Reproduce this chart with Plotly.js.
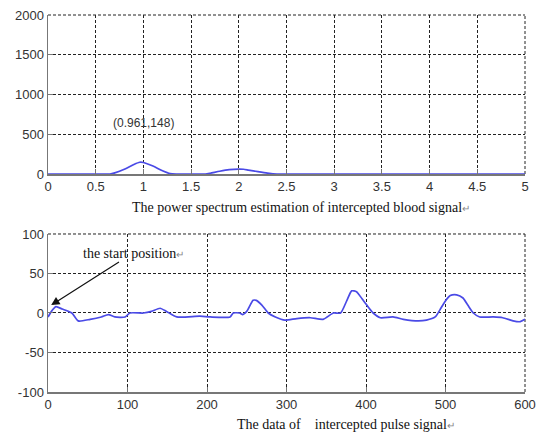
<!DOCTYPE html>
<html>
<head>
<meta charset="utf-8">
<script src="https://cdn.plot.ly/plotly-3.0.1.min.js"></script>
<style>html,body{margin:0;padding:0;background:#fff;}#plot{width:539px;height:436px;}</style>
</head>
<body>
<div id="plot"></div>
<script>
// Top: power spectrum estimation
const freq = [0, 0.5, 0.65, 0.7, 0.8, 0.9, 0.961, 1.0, 1.1, 1.2, 1.28, 1.35, 1.5, 1.65, 1.7, 1.8, 1.9, 2.0, 2.05, 2.1, 2.2, 2.3, 2.4, 2.5, 3, 3.5, 4, 4.5, 5];
const power = [0, 0, 0, 15, 60, 120, 148, 145, 100, 40, 5, 0, 0, 0, 10, 35, 55, 62, 60, 50, 30, 12, 0, 0, 0, 0, 0, 0, 0];
const freqTicks = [0, 0.5, 1, 1.5, 2, 2.5, 3, 3.5, 4, 4.5, 5];
const powerTicks = [0, 500, 1000, 1500, 2000];
const peakLabel = "(0.961,148)";
const returnMark = "<span style='font-size:10px;color:#888'>\u21b5</span>";
const topTitle = "The power spectrum estimation of intercepted blood signal" + returnMark;

// Bottom: intercepted pulse signal
const pulseIndex = [0, 5, 10, 18, 30, 38, 53, 67, 76, 84, 97, 103, 120, 130, 141, 149, 162, 191, 204, 229, 233, 241, 245, 250, 258, 262, 269, 277, 286, 298, 313, 330, 346, 359, 368, 376, 382, 388, 395, 401, 409, 418, 434, 447, 466, 476, 487, 493, 499, 506, 514, 522, 528, 535, 543, 560, 572, 585, 594, 600];
const pulseValue = [-5, 3, 8, 5, 0, -10, -8, -5, -2, -5, -5, 0, 0, 2, 6, 2, -5, -4, -5, -5, 0, 0, -2, 2, 16, 16, 10, 0, -5, -9, -7, -6, -8, 0, 0, 16, 28, 27, 18, 10, 0, -6, -5, -8, -10, -9, -5, 4, 14, 22, 23, 19, 10, 0, -5, -5, -6, -10, -11, -8];
const indexTicks = [0, 100, 200, 300, 400, 500, 600];
const pulseTicks = [-100, -50, 0, 50, 100];
const startLabel = "the start position" + returnMark;
const bottomTitle = "The data of \u00a0\u00a0 intercepted pulse signal" + returnMark;

const lineColor = "#4a4ae6";
const gridColor = "#222";
const gridDash = "3px,2px";
const tickFont = {family: "Liberation Sans, Arial, sans-serif", size: 13, color: "#333"};
const serifFont = {family: "Liberation Serif, Times New Roman, serif", size: 14, color: "#111"};

function axisBase(range, ticks, domain, anchor) {
  return {
    range: range, tickvals: ticks, ticktext: ticks.map(String), domain: domain, anchor: anchor,
    showgrid: true, gridcolor: gridColor, griddash: gridDash, gridwidth: 1,
    zeroline: false, showline: true, linecolor: "#777", linewidth: 1.5,
    ticks: "inside", ticklen: 5, tickcolor: "#777", tickfont: tickFont, fixedrange: true
  };
}

function edgeLines(xr, yr, xa, ya) {
  const ln = {color: gridColor, width: 1, dash: gridDash};
  return [
    {type: "line", xref: xa + " domain", yref: ya, x0: 1, x1: 1, y0: yr[0], y1: yr[1], line: ln, layer: "below"},
    {type: "line", xref: xa, yref: ya + " domain", x0: xr[0], x1: xr[1], y0: 1, y1: 1, line: ln, layer: "below"}
  ];
}

const traces = [
  {x: freq, y: power, type: "scatter", mode: "lines", line: {color: lineColor, width: 1.7, shape: "spline", smoothing: 0.6}, xaxis: "x", yaxis: "y", hoverinfo: "skip"},
  {x: pulseIndex, y: pulseValue, type: "scatter", mode: "lines", line: {color: lineColor, width: 1.7, shape: "spline", smoothing: 0.6}, xaxis: "x2", yaxis: "y2", hoverinfo: "skip"}
];

const layout = {
  width: 539, height: 436,
  margin: {l: 48, r: 14, t: 15, b: 44},
  paper_bgcolor: "#fff", plot_bgcolor: "#fff",
  showlegend: false,
  xaxis: axisBase([0, 5], freqTicks, [0, 1], "y"),
  yaxis: axisBase([0, 2000], powerTicks, [0.5782, 1], "x"),
  xaxis2: axisBase([0, 600], indexTicks, [0, 1], "y2"),
  yaxis2: axisBase([-100, 100], pulseTicks, [0, 0.4191], "x2"),
  shapes: edgeLines([0, 5], [0, 2000], "x", "y").concat(edgeLines([0, 600], [-100, 100], "x2", "y2")),
  annotations: [
    {x: 1.0, y: 640, xref: "x", yref: "y", text: peakLabel, showarrow: false, font: {family: "Liberation Sans, Arial, sans-serif", size: 12, color: "#333"}},
    {x: 0.53, y: 0.4907, xref: "paper", yref: "paper", xanchor: "center", yanchor: "middle", text: topTitle, showarrow: false, font: serifFont},
    {x: 0.625, y: -0.0875, xref: "paper", yref: "paper", xanchor: "center", yanchor: "middle", text: bottomTitle, showarrow: false, font: serifFont},
    {x: 4, y: 10, xref: "x2", yref: "y2", text: startLabel, showarrow: true, ax: 82, ay: -52, arrowhead: 2, arrowsize: 1.4, arrowwidth: 1.2, arrowcolor: "#111", font: serifFont}
  ]
};

Plotly.newPlot("plot", traces, layout, {staticPlot: true, displayModeBar: false});
</script>
</body>
</html>
